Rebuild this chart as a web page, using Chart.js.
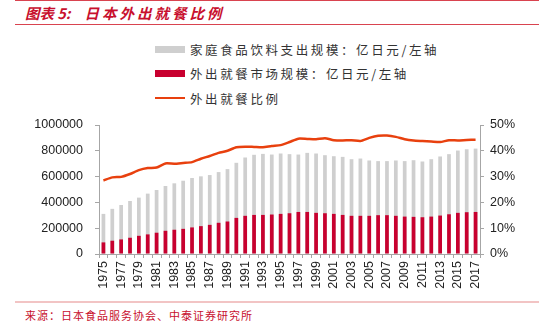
<!DOCTYPE html>
<html>
<head>
<meta charset="utf-8">
<script src="https://cdn.jsdelivr.net/npm/chart.js@4"></script>
<style>
  html, body { margin: 0; padding: 0; background: #fff; }
  body { width: 539px; height: 335px; position: relative; overflow: hidden; font-family: "Noto Sans CJK SC", sans-serif; }
  #topline { position: absolute; left: 15px; right: 0; top: 0; height: 1px; background: #d9434f; }
  #title { position: absolute; left: 25px; top: 2px; font-size: 14.5px; font-weight: bold; font-style: italic; color: #c8102e; white-space: nowrap; line-height: 21px; }
  #title .main { letter-spacing: 3px; margin-left: 14px; }
  #titleline { position: absolute; left: 15px; right: 0; top: 24px; height: 1px; background: #d9434f; }
  #legend { position: absolute; left: 155px; top: 37px; }
  .li { height: 24.5px; display: flex; align-items: center; font-size: 12.5px; color: #333; white-space: nowrap; }
  .li span { letter-spacing: 2.6px; }
  .sw { width: 30px; margin-right: 5px; }
  #wrap { position: absolute; left: 0; top: 100px; width: 539px; height: 200px; }
  #footline { position: absolute; left: 15px; right: 0; top: 301px; height: 2px; background: #f2c4c4; }
  #foot { position: absolute; left: 25px; top: 306px; font-size: 11px; letter-spacing: 1px; color: #c8102e; white-space: nowrap; line-height: 18px; }
</style>
</head>
<body>
<div id="topline"></div>
<div id="title">图表 5:<span class="main">日本外出就餐比例</span></div>
<div id="titleline"></div>
<div id="legend"></div>
<div id="wrap"><canvas id="c"></canvas></div>
<div id="footline"></div>
<div id="foot">来源：日本食品服务协会、中泰证券研究所</div>
<script>
const years = ["1975","1976","1977","1978","1979","1980","1981","1982","1983","1984","1985","1986","1987","1988","1989","1990","1991","1992","1993","1994","1995","1996","1997","1998","1999","2000","2001","2002","2003","2004","2005","2006","2007","2008","2009","2010","2011","2012","2013","2014","2015","2016","2017"];
const homeFood = [311000,350000,380000,411000,437000,468000,496000,527000,548000,568000,589000,602000,612000,635000,658000,707000,748000,769000,776000,771000,779000,774000,771000,784000,779000,766000,758000,753000,735000,740000,725000,720000,720000,725000,720000,727000,717000,735000,756000,774000,802000,812000,817000];
const eatingOut = [90000,103000,113000,126000,141000,152000,165000,180000,188000,195000,206000,216000,226000,242000,252000,280000,296000,303000,303000,306000,311000,316000,326000,326000,319000,316000,311000,303000,296000,296000,296000,301000,301000,296000,290000,288000,285000,290000,298000,308000,319000,324000,326000];
const eatingOutRatio = [28.5,29.7,29.9,31.0,32.5,33.3,33.5,35.1,35.0,35.3,35.6,36.9,38.0,39.2,40.0,41.4,41.6,41.5,41.4,41.9,42.2,43.4,44.7,44.6,44.5,44.9,44.1,44.0,44.1,43.8,45.0,45.8,45.9,45.4,44.5,44.0,43.8,43.6,43.4,44.1,44.0,44.2,44.3];
const leftTicks = [0,200000,400000,600000,800000,1000000];
const rightTicks = [0,10,20,30,40,50];
const seriesNames = ["家庭食品饮料支出规模：亿日元/左轴","外出就餐市场规模：亿日元/左轴","外出就餐比例"];

const GRAY = "#cfcfcf", RED = "#c8002f", ORANGE = "#e8400e", AXIS = "#a6a6a6";
const tickFont = { family: "'Liberation Sans', Arial, sans-serif", size: 12.5 };

const chart = new Chart(document.getElementById("c"), {
  type: "bar",
  data: {
    labels: years,
    datasets: [
      { label: seriesNames[0], data: homeFood, backgroundColor: GRAY, grouped: false, barPercentage: 0.42, categoryPercentage: 1, order: 3, yAxisID: "y" },
      { label: seriesNames[1], data: eatingOut, backgroundColor: RED, grouped: false, barPercentage: 0.42, categoryPercentage: 1, order: 2, yAxisID: "y" },
      { type: "line", label: seriesNames[2], data: eatingOutRatio, borderColor: ORANGE, borderWidth: 2.5, pointRadius: 0, tension: 0.2, fill: false, order: 1, yAxisID: "y1" }
    ]
  },
  options: {
    responsive: true,
    maintainAspectRatio: false,
    animation: false,
    layout: { padding: { top: 25, bottom: 0, left: 0, right: 0 } },
    plugins: { legend: { display: false }, tooltip: { enabled: false } },
    scales: {
      x: {
        ticks: {
          autoSkip: false, maxRotation: 90, minRotation: 90, padding: 3, color: "#222", font: tickFont,
          callback: function(v, i) { return i % 2 === 0 ? years[i] : ""; }
        },
        grid: { drawOnChartArea: false, color: AXIS, tickLength: 4, offset: true },
        border: { color: AXIS, width: 1 },
        afterFit: function(s) { s.height = 46; }
      },
      y: {
        position: "left", min: 0, max: 1000000,
        afterBuildTicks: function(s) { s.ticks = leftTicks.map(v => ({ value: v })); },
        ticks: { color: "#222", font: tickFont, padding: 12, callback: v => String(v) },
        grid: { drawOnChartArea: false, color: AXIS, tickLength: 4 },
        border: { color: AXIS, width: 1 },
        afterFit: function(s) { s.width = 99; }
      },
      y1: {
        position: "right", min: 0, max: 50,
        afterBuildTicks: function(s) { s.ticks = rightTicks.map(v => ({ value: v })); },
        ticks: { color: "#222", font: tickFont, padding: 6, callback: v => v + "%" },
        grid: { drawOnChartArea: false, color: AXIS, tickLength: 4 },
        border: { color: AXIS, width: 1 },
        afterFit: function(s) { s.width = 59; }
      }
    }
  }
});

// HTML legend built from the chart's datasets
const lg = document.getElementById("legend");
chart.data.datasets.forEach(ds => {
  const row = document.createElement("div");
  row.className = "li";
  const sw = document.createElement("div");
  sw.className = "sw";
  if (ds.type === "line") { sw.style.height = "2px"; sw.style.background = ds.borderColor; }
  else { sw.style.height = "7px"; sw.style.background = ds.backgroundColor; }
  const tx = document.createElement("span");
  tx.textContent = ds.label;
  row.appendChild(sw); row.appendChild(tx);
  lg.appendChild(row);
});
</script>
</body>
</html>
